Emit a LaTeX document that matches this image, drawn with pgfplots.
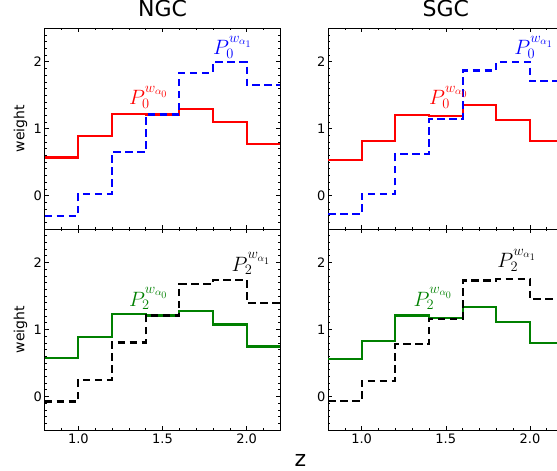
\documentclass[border=0pt]{standalone}
\usepackage{pgfplots}
\pgfplotsset{compat=1.18}
\usepackage{fontspec}
\setmainfont{DejaVu Sans}

\definecolor{mplgreen}{rgb}{0,0.5,0}

\pgfplotsset{
  panel/.style={
    scale only axis, width=235.6pt, height=200.7pt,
    xmin=0.8, xmax=2.2, ymin=-0.5, ymax=2.5,
    xtick={1.0,1.5,2.0},
    minor xtick={0.9,1.1,1.2,1.3,1.4,1.6,1.7,1.8,1.9,2.1},
    ytick={0,1,2},
    minor ytick={-0.4,-0.3,-0.2,-0.1,0.1,0.2,0.3,0.4,0.5,0.6,0.7,0.8,0.9,
                 1.1,1.2,1.3,1.4,1.5,1.6,1.7,1.8,1.9,2.1,2.2,2.3,2.4},
    major tick length=4pt, minor tick length=2pt,
    tick style={black, line width=0.6pt},
    axis line style={line width=0.8pt},
    /pgf/number format/assume math mode=true,
    ticklabel style={font=\fontsize{13}{13}\selectfont},
    yticklabel style={inner sep=2.5pt},
    xticklabel style={inner sep=4pt, /pgf/number format/.cd, fixed, fixed zerofill, precision=1},
    title style={at={(axis description cs:0.5,1)}, anchor=base, yshift=5.6pt,
                 font=\fontsize{22}{22}\selectfont},
    every axis y label/.style={at={(axis description cs:-0.103,0.5)}, rotate=90,
                 anchor=center, font=\fontsize{14}{14}\selectfont},
    clip=true,
  },
  solidstep/.style={const plot, line width=2.2pt},
  dashstep/.style={const plot, line width=2.2pt, dash pattern=on 7.5pt off 4.5pt},
}
\tikzset{lab/.style={anchor=base west, inner sep=0pt, font=\fontsize{19.5}{19.5}\selectfont}}

\begin{document}
\begin{tikzpicture}
% NGC, l=0
\begin{axis}[panel, at={(44.7pt,242pt)}, anchor=south west, title={NGC},
  xticklabels={}, ylabel={weight}]
  \addplot[red, solidstep] coordinates {(0.8,0.57) (1.0,0.885) (1.2,1.22) (1.4,1.21) (1.6,1.295) (1.8,1.10) (2.0,0.77) (2.2,0.77)};
  \addplot[blue, dashstep] coordinates {(0.8,-0.30) (1.0,0.025) (1.2,0.65) (1.4,1.21) (1.6,1.835) (1.8,1.995) (2.0,1.655) (2.2,1.655)};
  \node[lab, red] at (axis cs:1.30,1.36) {$P_0^{w_{\alpha_0}}$};
  \node[lab, blue] at (axis cs:1.80,2.11) {$P_0^{w_{\alpha_1}}$};
\end{axis}
% SGC, l=0
\begin{axis}[panel, at={(328pt,242pt)}, anchor=south west, title={SGC},
  xticklabels={}]
  \addplot[red, solidstep] coordinates {(0.8,0.535) (1.0,0.82) (1.2,1.205) (1.4,1.185) (1.6,1.35) (1.8,1.135) (2.0,0.815) (2.2,0.815)};
  \addplot[blue, dashstep] coordinates {(0.8,-0.275) (1.0,0.025) (1.2,0.62) (1.4,1.145) (1.6,1.87) (1.8,2.0) (2.0,1.71) (2.2,1.71)};
  \node[lab, red] at (axis cs:1.40,1.36) {$P_0^{w_{\alpha_0}}$};
  \node[lab, blue] at (axis cs:1.907,2.11) {$P_0^{w_{\alpha_1}}$};
\end{axis}
% NGC, l=2
\begin{axis}[panel, at={(44.7pt,41pt)}, anchor=south west, height=201pt, ylabel={weight}]
  \addplot[mplgreen, solidstep] coordinates {(0.8,0.578) (1.0,0.89) (1.2,1.23) (1.4,1.21) (1.6,1.28) (1.8,1.075) (2.0,0.746) (2.2,0.746)};
  \addplot[black, dashstep] coordinates {(0.8,-0.075) (1.0,0.25) (1.2,0.806) (1.4,1.21) (1.6,1.68) (1.8,1.74) (2.0,1.40) (2.2,1.40)};
  \node[lab, mplgreen] at (axis cs:1.30,1.35) {$P_2^{w_{\alpha_0}}$};
  \node[lab, black] at (axis cs:1.91,1.87) {$P_2^{w_{\alpha_1}}$};
\end{axis}
% SGC, l=2
\begin{axis}[panel, at={(328pt,41pt)}, anchor=south west, height=201pt]
  \addplot[mplgreen, solidstep] coordinates {(0.8,0.557) (1.0,0.83) (1.2,1.21) (1.4,1.17) (1.6,1.335) (1.8,1.115) (2.0,0.797) (2.2,0.797)};
  \addplot[black, dashstep] coordinates {(0.8,-0.07) (1.0,0.235) (1.2,0.78) (1.4,1.155) (1.6,1.73) (1.8,1.755) (2.0,1.45) (2.2,1.45)};
  \node[lab, mplgreen] at (axis cs:1.307,1.35) {$P_2^{w_{\alpha_0}}$};
  \node[lab, black] at (axis cs:1.806,1.92) {$P_2^{w_{\alpha_1}}$};
\end{axis}
\node[anchor=base, inner sep=0pt, font=\fontsize{22}{22}\selectfont] at (300.5pt,4pt) {$\mathrm{z}$};
\pgfresetboundingbox
\path[use as bounding box] (0pt,0pt) rectangle (557pt,471pt);
\end{tikzpicture}
\end{document}
